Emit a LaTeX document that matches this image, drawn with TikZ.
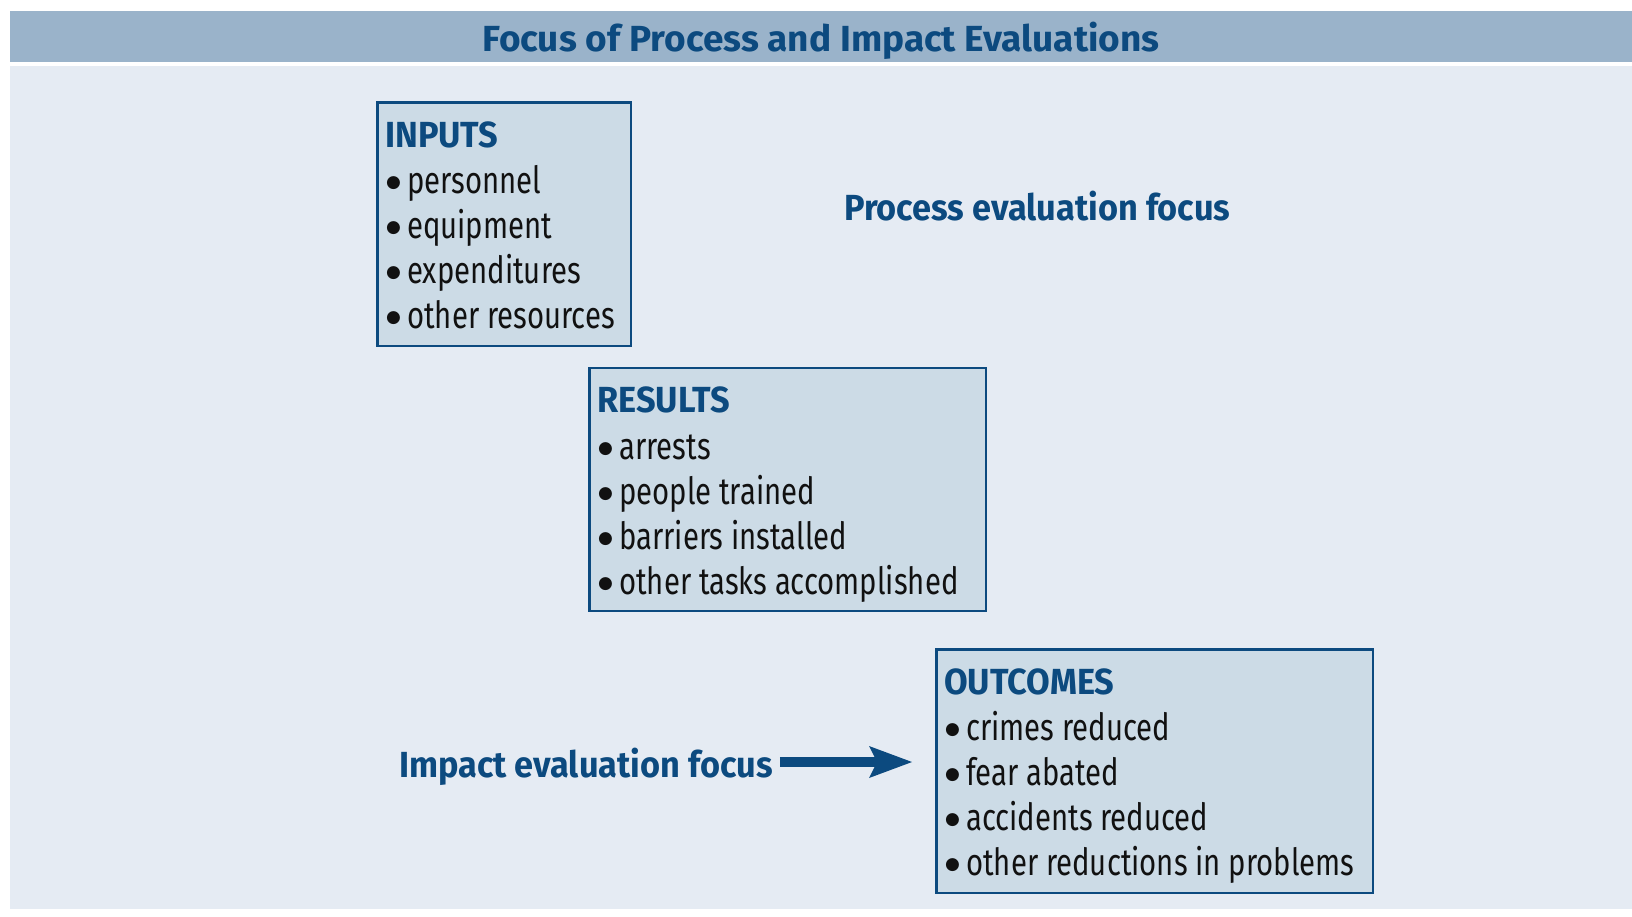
\documentclass[tikz,border=0pt]{standalone}
\usepackage{fontspec}
\usetikzlibrary{arrows.meta}
\setmainfont{Fira Sans}
\newfontfamily\firabase{Fira Sans}
\newfontfamily\dejavu{DejaVu Sans}
% calibrate horizontal stretch so that the condensed look of the original is matched
\newlength\calw
\settowidth\calw{\firabase\fontsize{37.5}{45}\selectfont other reductions in problems}
\pgfmathsetmacro\regstretch{388/\calw}
\settowidth\calw{\firabase\fontsize{36.3}{44}\selectfont\bfseries Process evaluation focus}
\pgfmathsetmacro\boldstretch{386/\calw}
\pgfmathsetmacro\titlestretch{\boldstretch*1.078}
\edef\tmpdef{\noexpand\newfontfamily\noexpand\regfont[FakeStretch=\regstretch]{Fira Sans}}\tmpdef
\edef\tmpdef{\noexpand\newfontfamily\noexpand\headfont[FakeStretch=\boldstretch]{Fira Sans}}\tmpdef
\edef\tmpdef{\noexpand\newfontfamily\noexpand\titlefont[FakeStretch=\titlestretch]{Fira Sans}}\tmpdef

\newcommand\bul{\makebox[21pt][l]{\raisebox{5.6pt}{\dejavu\fontsize{17}{17}\selectfont ●}}}

\definecolor{navy}{HTML}{0C4A7F}
\definecolor{barblue}{HTML}{9AB3CA}
\definecolor{bodybg}{HTML}{E5EBF3}
\definecolor{boxfill}{HTML}{CCDBE6}
\definecolor{inktext}{HTML}{111111}

\begin{document}
\begin{tikzpicture}[x=1pt,y=-1pt,
  evalbox/.style={draw=navy, fill=boxfill, line width=2.5pt, inner sep=0pt},
  headtext/.style={font=\headfont\bfseries\fontsize{36.3}{44}\selectfont, text=navy, inner sep=0pt, anchor=base west},
  titletext/.style={font=\titlefont\bfseries\fontsize{36.3}{44}\selectfont, text=navy, inner sep=0pt, anchor=base},
  itemtext/.style={font=\regfont\fontsize{37.5}{45}\selectfont, text=inktext, inner sep=0pt, anchor=base west},
  bigarrow/.style={draw=navy, line width=10.5pt, -{Stealth[length=43pt, width=32pt, inset=8pt, line width=0pt]}}
]
\useasboundingbox (0,0) rectangle (1632,916);
\fill[white] (0,0) rectangle (1632,916);
\fill[barblue] (10,11.3) rectangle (1632,62);
\fill[bodybg] (10,65.5) rectangle (1632,909);

\node[titletext] (title) at (821,51.3) {Focus of Process and Impact Evaluations};

% boxes
\node[evalbox, minimum width=253.5pt, minimum height=243.5pt] (inputs) at (504,224) {};
\node[evalbox, minimum width=396.5pt, minimum height=243pt] (results) at (787.5,489.25) {};
\node[evalbox, minimum width=436.5pt, minimum height=243.5pt] (outcomes) at (1154.5,771) {};

% box contents
\node[headtext] (inputs-h) at ([shift={(9,46.3)}]inputs.north west) {INPUTS};
\foreach \t [count=\i] in {personnel,equipment,expenditures,other resources}
  \node[itemtext] (inputs-\i) at ([shift={(10,47.5+45*\i)}]inputs.north west) {\bul\t};

\node[headtext] (results-h) at ([shift={(9,46.3)}]results.north west) {RESULTS};
\foreach \t [count=\i] in {arrests,people trained,barriers installed,other tasks accomplished}
  \node[itemtext] (results-\i) at ([shift={(10,47.5+45*\i)}]results.north west) {\bul\t};

\node[headtext] (outcomes-h) at ([shift={(9,46.3)}]outcomes.north west) {OUTCOMES};
\foreach \t [count=\i] in {crimes reduced,fear abated,accidents reduced,other reductions in problems}
  \node[itemtext] (outcomes-\i) at ([shift={(10,47.5+45*\i)}]outcomes.north west) {\bul\t};

% focus labels
\node[headtext] (process) at (844,220) {Process evaluation focus};
\node[headtext] (impact) at (399,777) {Impact evaluation focus};

\coordinate (tip) at (912,762);
\draw[bigarrow] (impact.east |- tip) ++(7,0) -- (tip);
\end{tikzpicture}
\end{document}
